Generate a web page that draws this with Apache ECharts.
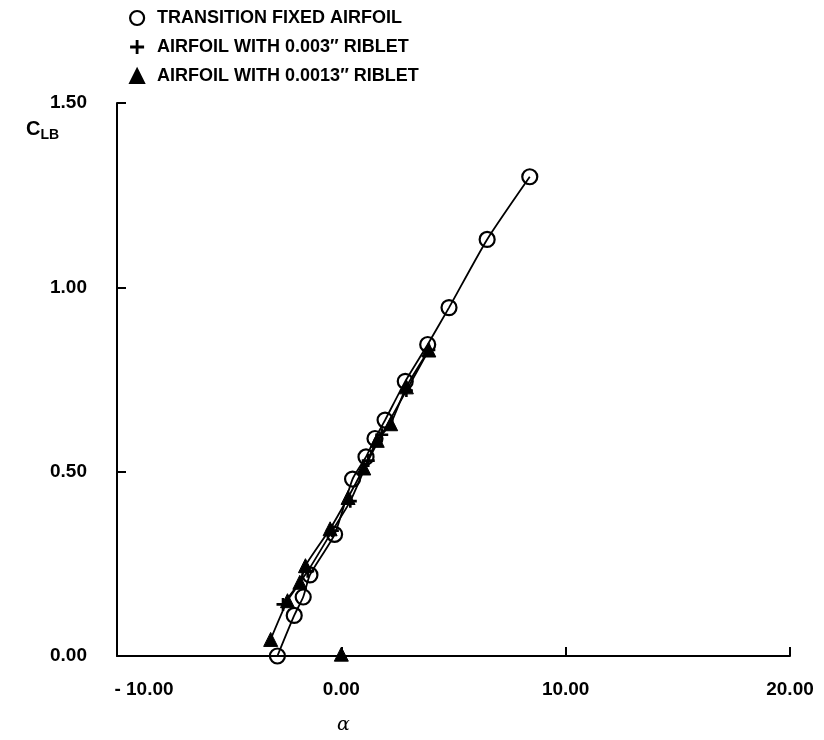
<!DOCTYPE html>
<html>
<head>
<meta charset="utf-8">
<script src="https://cdn.jsdelivr.net/npm/echarts@6/dist/echarts.min.js"></script>
<style>
  html, body { margin: 0; padding: 0; background: #fff; }
  #chart { width: 824px; height: 740px; }
</style>
</head>
<body>
<div id="chart"></div>
<script>
// legend names
const seriesNames = ['TRANSITION FIXED AIRFOIL', 'AIRFOIL WITH 0.003\u2033 RIBLET', 'AIRFOIL WITH 0.0013\u2033 RIBLET'];

// transition fixed airfoil [alpha, CLB]
const fixedAlpha = [-2.85, -2.1, -1.7, -1.4, -0.3, 0.5, 1.1, 1.5, 1.95, 2.85, 3.85, 4.8, 6.5, 8.4];
const fixedCl = [0.00, 0.11, 0.16, 0.22, 0.33, 0.48, 0.54, 0.59, 0.64, 0.745, 0.845, 0.945, 1.13, 1.30];

// 0.003" riblet
const rib3Alpha = [-2.6, -1.5, -0.4, 0.4, 1.2, 1.8, 2.9, 3.9];
const rib3Cl = [0.14, 0.23, 0.34, 0.42, 0.53, 0.60, 0.72, 0.83];

// 0.0013" riblet
const rib13Alpha = [-3.15, -2.4, -1.85, -1.6, -0.5, 0.3, 1.0, 1.6, 2.2, 2.9, 3.9];
const rib13Cl = [0.045, 0.15, 0.20, 0.245, 0.345, 0.43, 0.51, 0.585, 0.63, 0.73, 0.83];
// stray point of the 0.0013" riblet run, not joined by the curve
const rib13StrayAlpha = [0.0];
const rib13StrayCl = [0.005];

// axis ticks
const xTicks = [-10, 0, 10, 20];
const yTicks = [0, 0.5, 1.0, 1.5];

const pairs = (xs, ys) => xs.map((x, i) => [x, ys[i]]);

const FONT = 'Liberation Sans';
const plusPath = 'path://M4,0H6V4H10V6H6V10H4V6H0V4H4Z';

const chart = echarts.init(document.getElementById('chart'));
const option = {
  backgroundColor: '#fff',
  animation: false,
  textStyle: { fontFamily: FONT, color: '#000' },
  grid: { left: 117, right: 34, top: 103, bottom: 83 },
  legend: {
    orient: 'vertical',
    left: 124,
    top: 4,
    itemGap: 11,
    itemWidth: 14,
    itemHeight: 14,
    textStyle: { fontFamily: FONT, fontWeight: 'bold', fontSize: 18, color: '#000', padding: [0, 0, 0, 8] },
    data: [
      { name: seriesNames[0], icon: 'circle', itemStyle: { color: '#fff', borderColor: '#000', borderWidth: 2.2 } },
      { name: seriesNames[1], icon: plusPath },
      { name: seriesNames[2], icon: 'triangle' }
    ]
  },
  graphic: [
    {
      type: 'text',
      left: 26,
      top: 119,
      style: {
        text: '{c|C}{s|LB}',
        rich: {
          c: { fontFamily: FONT, fontWeight: 'bold', fontSize: 20, fill: '#000' },
          s: { fontFamily: FONT, fontWeight: 'bold', fontSize: 14, fill: '#000', padding: [12, 0, 0, 0] }
        }
      }
    }
  ],
  xAxis: {
    type: 'value',
    min: xTicks[0],
    max: xTicks[xTicks.length - 1],
    interval: 10,
    name: '\u03b1',
    nameLocation: 'middle',
    nameGap: 60,
    nameTextStyle: { fontFamily: 'DejaVu Serif', fontStyle: 'italic', fontSize: 19, color: '#000', padding: [0, 220, 0, 0] },
    axisLine: { onZero: false, lineStyle: { color: '#000', width: 2 } },
    axisTick: { inside: true, length: 9, lineStyle: { color: '#000', width: 2 } },
    axisLabel: {
      margin: 24,
      fontFamily: FONT,
      fontWeight: 'bold',
      fontSize: 19,
      color: '#000',
      formatter: v => v < 0 ? '{neg|- ' + Math.abs(v).toFixed(2) + '}' : v.toFixed(2),
      rich: { neg: { fontFamily: FONT, fontWeight: 'bold', fontSize: 19, color: '#000', padding: [0, 0, 0, 54] } }
    },
    splitLine: { show: false }
  },
  yAxis: {
    type: 'value',
    min: yTicks[0],
    max: yTicks[yTicks.length - 1],
    interval: 0.5,
    axisLine: { onZero: false, lineStyle: { color: '#000', width: 2 } },
    axisTick: { inside: true, length: 9, lineStyle: { color: '#000', width: 2 } },
    axisLabel: {
      margin: 30,
      fontFamily: FONT,
      fontWeight: 'bold',
      fontSize: 19,
      color: '#000',
      formatter: v => v.toFixed(2)
    },
    splitLine: { show: false }
  },
  series: [
    // curves
    {
      type: 'line', silent: true, showSymbol: false, smooth: 0.2,
      data: pairs(fixedAlpha, fixedCl),
      lineStyle: { color: '#000', width: 1.8 }, z: 1
    },
    {
      type: 'line', silent: true, showSymbol: false, smooth: 0.2,
      data: pairs(rib3Alpha, rib3Cl),
      lineStyle: { color: '#000', width: 1.8 }, z: 1
    },
    {
      type: 'line', silent: true, showSymbol: false, smooth: 0.2,
      data: pairs(rib13Alpha, rib13Cl),
      lineStyle: { color: '#000', width: 1.8 }, z: 1
    },
    // markers
    {
      name: seriesNames[0],
      type: 'scatter',
      symbol: 'circle',
      symbolSize: 15,
      data: pairs(fixedAlpha, fixedCl),
      itemStyle: { color: 'rgba(0,0,0,0)', borderColor: '#000', borderWidth: 2.2, opacity: 1 },
      z: 3
    },
    {
      name: seriesNames[1],
      type: 'scatter',
      symbol: plusPath,
      symbolSize: 13,
      data: pairs(rib3Alpha, rib3Cl),
      itemStyle: { color: '#000', opacity: 1 },
      z: 4
    },
    {
      name: seriesNames[2],
      type: 'scatter',
      symbol: 'triangle',
      symbolSize: 14,
      data: pairs(rib13Alpha, rib13Cl),
      itemStyle: { color: '#000', borderColor: '#000', borderWidth: 1, opacity: 1 },
      z: 4
    },
    {
      name: seriesNames[2],
      type: 'scatter',
      symbol: 'triangle',
      symbolSize: 14,
      data: pairs(rib13StrayAlpha, rib13StrayCl),
      itemStyle: { color: '#000', borderColor: '#000', borderWidth: 1, opacity: 1 },
      z: 4
    }
  ]
};
chart.setOption(option);
</script>
</body>
</html>
